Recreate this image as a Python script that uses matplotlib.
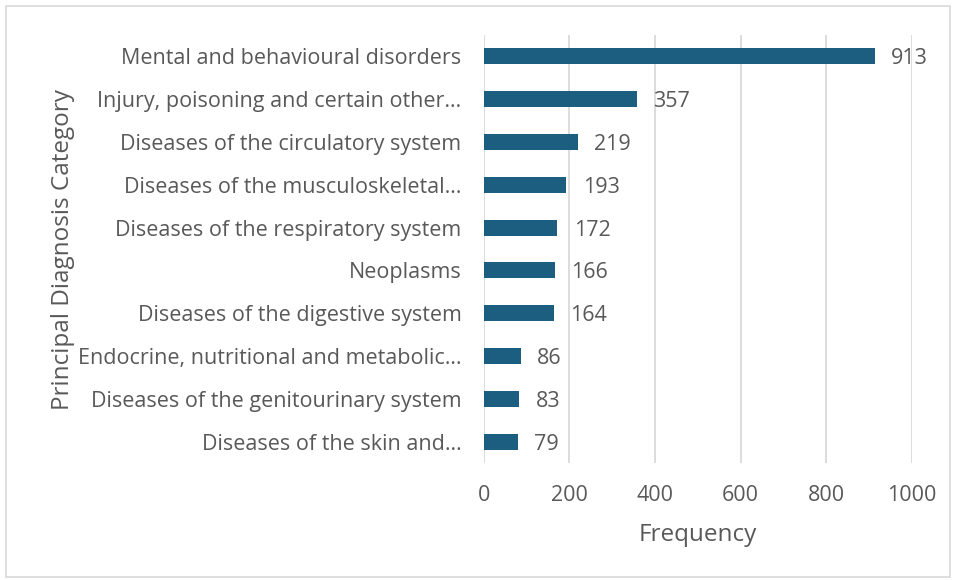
import matplotlib.pyplot as plt
from matplotlib.patches import Rectangle

categories = [
    "Mental and behavioural disorders",
    "Injury, poisoning and certain other\u2026",
    "Diseases of the circulatory system",
    "Diseases of the musculoskeletal\u2026",
    "Diseases of the respiratory system",
    "Neoplasms",
    "Diseases of the digestive system",
    "Endocrine, nutritional and metabolic\u2026",
    "Diseases of the genitourinary system",
    "Diseases of the skin and\u2026",
]
frequency = [913, 357, 219, 193, 172, 166, 164, 86, 83, 79]
x_ticks = [0, 200, 400, 600, 800, 1000]

bar_color = "#1B5E80"
text_color = "#595959"
grid_color = "#D9D9D9"

plt.rcParams['font.family'] = ['Open Sans', 'DejaVu Sans']

fig = plt.figure(figsize=(9.56, 5.8), dpi=100)
ax = fig.add_axes([0.506, 0.2017, 0.448, 0.738])

y = list(range(len(categories)))
ax.barh(y, frequency, height=0.37, color=bar_color, zorder=3)
ax.set_ylim(len(categories) - 0.5, -0.5)
ax.set_xlim(0, 1000)

# value labels to the right of each bar
for yi, v in zip(y, frequency):
    ax.text(v + 38, yi, str(v), va='center_baseline', ha='left', fontsize=15.5, color=text_color)

ax.set_yticks(y)
ax.set_yticklabels(categories, fontsize=15.5, color=text_color)
ax.set_xticks(x_ticks)
ax.set_xticklabels([str(t) for t in x_ticks], fontsize=15.5, color=text_color)
ax.tick_params(axis='both', length=0)
ax.tick_params(axis='y', pad=16)
ax.tick_params(axis='x', pad=16)

ax.grid(axis='x', color=grid_color, linewidth=1.3, zorder=0)
for s in ax.spines.values():
    s.set_visible(False)

ax.set_xlabel("Frequency", fontsize=17.5, color=text_color, labelpad=12)
fig.text(0.066, 0.57, "Principal Diagnosis Category", rotation=90, fontsize=17.5,
         color=text_color, ha='center', va='center')

# light frame around the whole chart
fig.patches.append(Rectangle((0.006, 0.005), 0.988, 0.985, transform=fig.transFigure,
                             fill=False, edgecolor="#D9D9D9", linewidth=1.2))

fig.savefig("out.png", dpi=100)
